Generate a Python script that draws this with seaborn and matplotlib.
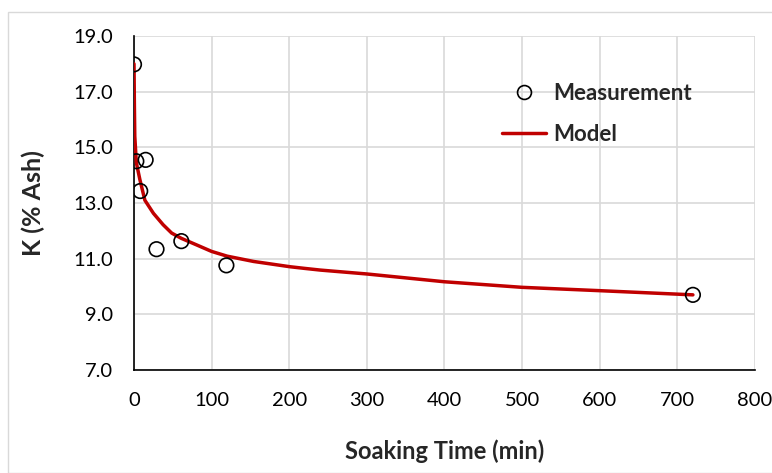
import matplotlib
matplotlib.use("Agg")
import matplotlib.pyplot as plt
import seaborn as sns
import pandas as pd
from matplotlib.lines import Line2D
from matplotlib.patches import Rectangle

# Mediciones
tiempo_medido = [0, 3, 8, 15, 29, 61, 119, 720]
k_medido = [17.98, 14.5, 13.43, 14.55, 11.34, 11.63, 10.76, 9.70]

# Modelo
tiempo_modelo = [0, 0.5, 1, 3, 7.5, 14, 25, 37.5, 48.5, 61, 81, 100, 120,
                 154, 201, 220, 240, 300, 400, 500, 600, 720]
k_modelo = [18.0, 16.5, 15.4, 14.45, 13.85, 13.1, 12.63, 12.22, 11.92, 11.73,
            11.49, 11.26, 11.09, 10.9, 10.71, 10.65, 10.59, 10.45, 10.17,
            9.97, 9.85, 9.70]

df_medido = pd.DataFrame({"tiempo": tiempo_medido, "k": k_medido})
df_modelo = pd.DataFrame({"tiempo": tiempo_modelo, "k": k_modelo})

sns.set_style("white")
plt.rcParams['font.family'] = ['Lato', 'DejaVu Sans']

fig = plt.figure(figsize=(7.72, 4.73), dpi=100)
ax = fig.add_axes([134 / 772, 1 - 370 / 473, 621 / 772, 334 / 473])

# borde del grafico
fig.patches.append(Rectangle((8 / 772, 0), 1, 1 - 12 / 473, transform=fig.transFigure,
                             fill=False, edgecolor="#d9d9d9", linewidth=1))

sns.lineplot(data=df_modelo, x="tiempo", y="k", color="#c00000", linewidth=2.5,
             ax=ax, zorder=3)
sns.scatterplot(data=df_medido, x="tiempo", y="k", marker="o", s=110,
                facecolor="none", edgecolor="black", linewidth=1.2, ax=ax, zorder=4)

ax.set_xlim(0, 800)
ax.set_ylim(7, 19)
ax.set_xticks(range(0, 801, 100))
ax.set_yticks([7, 9, 11, 13, 15, 17, 19])
ax.set_yticklabels([f"{v:.1f}" for v in [7, 9, 11, 13, 15, 17, 19]])
ax.grid(True, color="#d9d9d9", linewidth=1.2)
ax.set_axisbelow(True)
for s in ["top", "right"]:
    ax.spines[s].set_visible(False)
for s in ["left", "bottom"]:
    ax.spines[s].set_color("black")
    ax.spines[s].set_linewidth(1.2)
ax.tick_params(axis="both", length=0, labelsize=14.5, colors="black")
ax.tick_params(axis="x", pad=16)
ax.tick_params(axis="y", pad=15)

ax.set_xlabel("Soaking Time (min)", fontsize=17, fontweight="bold", labelpad=22)
ax.set_ylabel("K (% Ash)", fontsize=18, fontweight="bold", labelpad=20)

handles = [
    Line2D([], [], marker="o", linestyle="none", markerfacecolor="none",
           markeredgecolor="black", markersize=10, markeredgewidth=1.2),
    Line2D([], [], color="#c00000", linewidth=2.5),
]
leg = ax.legend(handles, ["Measurement", "Model"], loc="upper left",
                bbox_to_anchor=(0.56, 0.92), frameon=False, fontsize=16,
                handlelength=2.0, labelspacing=0.9, handletextpad=0.3)
for t in leg.get_texts():
    t.set_fontweight("bold")

fig.savefig("out.png", dpi=100)
